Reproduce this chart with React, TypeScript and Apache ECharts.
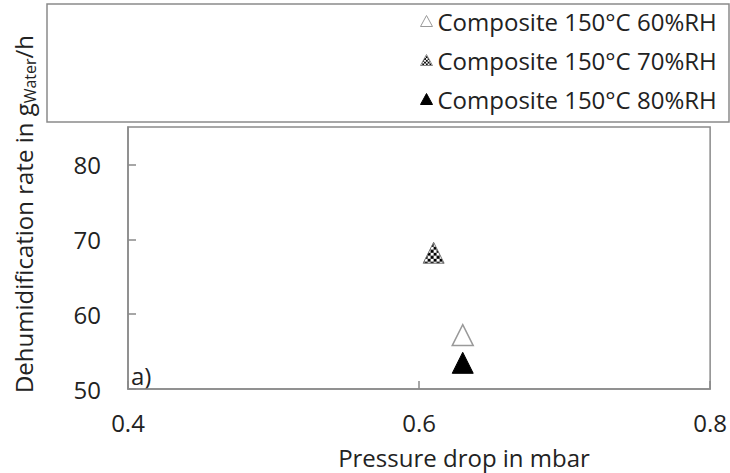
import React, { useEffect, useRef } from "react";
import * as echarts from "echarts";

// Pressure drop (mbar) and dehumidification rate (g/h) per humidity level
const seriesNames = [
  "Composite 150°C 60%RH",
  "Composite 150°C 70%RH",
  "Composite 150°C 80%RH",
];
const pressureDrop60 = [0.630];
const rate60 = [57.2];
const pressureDrop70 = [0.610];
const rate70 = [68.2];
const pressureDrop80 = [0.630];
const rate80 = [53.5];

const xTicks = [0.4, 0.6, 0.8];
const yTicks = [50, 60, 70, 80];

const FONT = "'Open Sans', 'Noto Sans', sans-serif";
const TEXT = "#222222";
const FRAME = "#8a8a8a";
const MARK = 21;

// Small black/white checkerboard used as fill of the 70%RH marker.
function checkerPattern(): HTMLCanvasElement {
  const c = document.createElement("canvas");
  c.width = 6;
  c.height = 6;
  const g = c.getContext("2d")!;
  g.fillStyle = "#ffffff";
  g.fillRect(0, 0, 6, 6);
  g.fillStyle = "#000000";
  g.fillRect(0, 0, 3, 3);
  g.fillRect(3, 3, 3, 3);
  return c;
}

export default function App() {
  const ref = useRef<HTMLDivElement>(null);

  useEffect(() => {
    if (!ref.current) return;
    const chart = echarts.init(ref.current, undefined, { renderer: "svg" });
    const pair = (xs: number[], ys: number[]) => xs.map((x, i) => [x, ys[i]]);
    const checker = checkerPattern();
    // symbols are unit paths scaled by size/2, so shrink the pattern back
    const patScale = 2 / MARK;

    chart.setOption({
      animation: false,
      backgroundColor: "#ffffff",
      grid: {
        left: 128,
        right: 16,
        top: 127,
        bottom: 84,
        show: true,
        borderColor: FRAME,
        borderWidth: 1.5,
        backgroundColor: "transparent",
      },
      xAxis: {
        type: "value",
        min: xTicks[0],
        max: xTicks[xTicks.length - 1],
        interval: 0.2,
        axisLine: { show: true, lineStyle: { color: FRAME, width: 1.5 } },
        axisTick: { show: true, inside: true, length: 8, lineStyle: { color: FRAME, width: 1.5 } },
        splitLine: { show: false },
        axisLabel: {
          margin: 21,
          color: TEXT,
          fontFamily: FONT,
          fontSize: 24,
          formatter: (v: number) => v.toFixed(1),
        },
      },
      yAxis: {
        type: "value",
        min: yTicks[0],
        max: 85,
        interval: 10,
        axisLine: { show: true, lineStyle: { color: FRAME, width: 1.5 } },
        axisTick: { show: true, inside: true, length: 8, lineStyle: { color: FRAME, width: 1.5 } },
        splitLine: { show: false },
        axisLabel: {
          margin: 27,
          color: TEXT,
          fontFamily: FONT,
          fontSize: 24,
          showMaxLabel: false,
        },
      },
      legend: {
        orient: "vertical",
        left: 415,
        top: 2,
        padding: 5,
        itemWidth: 12,
        itemHeight: 11,
        itemGap: 11,
        textStyle: { color: TEXT, fontFamily: FONT, fontSize: 24, lineHeight: 28 },
        data: [
          {
            name: seriesNames[0],
            icon: "triangle",
            itemStyle: { color: "#ffffff", borderColor: "#9a9a9a", borderWidth: 1, opacity: 1 },
          },
          {
            name: seriesNames[1],
            icon: "triangle",
            itemStyle: {
              color: { image: checker, repeat: "repeat", scaleX: 0.6, scaleY: 0.6 },
              borderColor: "#777777",
              borderWidth: 0.8,
              opacity: 1,
            },
          },
          {
            name: seriesNames[2],
            icon: "triangle",
            itemStyle: { color: "#000000", borderColor: "#000000", borderWidth: 1, opacity: 1 },
          },
        ],
      },
      graphic: [
        {
          type: "rect",
          shape: { x: 47, y: 4, width: 682, height: 118 },
          style: { fill: "none", stroke: FRAME, lineWidth: 1.5 },
          z: -1,
        },
        {
          type: "text",
          x: 23,
          y: 214,
          rotation: Math.PI / 2,
          style: {
            text: "Dehumidification rate in g{sub|Water}/h",
            fill: TEXT,
            fontFamily: FONT,
            fontSize: 24,
            align: "center",
            verticalAlign: "middle",
            rich: {
              sub: { fontFamily: FONT, fontSize: 16, fill: TEXT, padding: [14, 0, 0, 0] },
            },
          },
        },
        {
          type: "text",
          x: 464,
          y: 457,
          style: {
            text: "Pressure drop in mbar",
            fill: TEXT,
            fontFamily: FONT,
            fontSize: 24,
            align: "center",
            verticalAlign: "middle",
          },
        },
        {
          type: "text",
          x: 131,
          y: 375,
          style: {
            text: "a)",
            fill: TEXT,
            fontFamily: FONT,
            fontSize: 24,
            align: "left",
            verticalAlign: "middle",
          },
        },
      ],
      series: [
        {
          name: seriesNames[0],
          type: "scatter",
          symbol: "triangle",
          symbolSize: [MARK, MARK],
          data: pair(pressureDrop60, rate60),
          itemStyle: { color: "#ffffff", borderColor: "#9a9a9a", borderWidth: 1.5, opacity: 1 },
        },
        {
          name: seriesNames[1],
          type: "scatter",
          symbol: "triangle",
          symbolSize: [MARK, MARK],
          data: pair(pressureDrop70, rate70),
          itemStyle: {
            color: {
              image: checker,
              repeat: "repeat",
              scaleX: patScale,
              scaleY: patScale,
            },
            borderColor: "#777777",
            borderWidth: 1,
            opacity: 1,
          },
        },
        {
          name: seriesNames[2],
          type: "scatter",
          symbol: "triangle",
          symbolSize: [MARK, MARK],
          data: pair(pressureDrop80, rate80),
          itemStyle: { color: "#000000", borderColor: "#000000", borderWidth: 1, opacity: 1 },
        },
      ],
    });

    return () => chart.dispose();
  }, []);

  return (
    <div
      ref={ref}
      style={{ position: "absolute", left: 0, top: 0, width: 730, height: 473 }}
    />
  );
}
